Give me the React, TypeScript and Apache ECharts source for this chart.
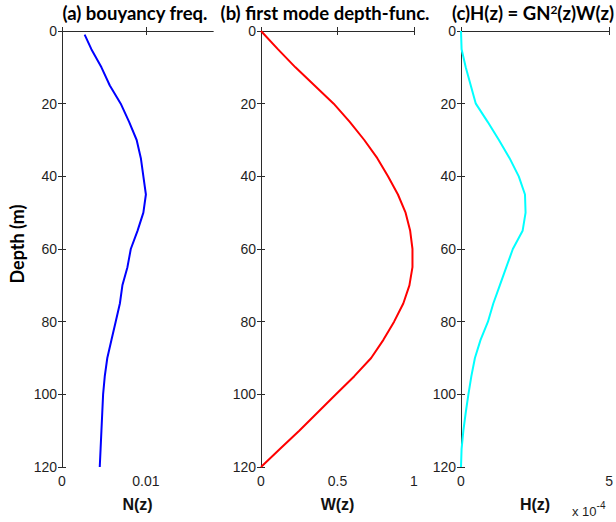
import React, { useEffect, useRef } from "react";
import * as echarts from "echarts";

// Depth grids (m)
const nDepths = [1, 5, 10, 15, 20, 25, 30, 35, 40, 45, 50, 55, 60, 65, 70, 75, 80, 85, 90, 95, 100, 105, 110, 115, 120];
const depths = [0, 5, 10, 15, 20, 25, 30, 35, 40, 45, 50, 55, 60, 65, 70, 75, 80, 85, 90, 95, 100, 105, 110, 115, 120];

// (a) buoyancy frequency N(z)
const buoyancyN = [0.0027, 0.0035, 0.0047, 0.0057, 0.007, 0.008, 0.0089, 0.0094, 0.0097, 0.01, 0.0097, 0.009, 0.0082, 0.0078, 0.0072, 0.0069, 0.0064, 0.0059, 0.0054, 0.0051, 0.0049, 0.0048, 0.0047, 0.0046, 0.0045];
// (b) first mode depth function W(z)
const modeW = [0, 0.11, 0.225, 0.35, 0.475, 0.58, 0.675, 0.76, 0.83, 0.895, 0.945, 0.975, 0.99, 0.99, 0.97, 0.93, 0.87, 0.8, 0.72, 0.61, 0.49, 0.37, 0.25, 0.125, 0];
// (c) H(z) in units of 1e-4
const hValues = [0, 0.02, 0.16, 0.33, 0.5, 0.9, 1.28, 1.64, 1.95, 2.16, 2.18, 2.08, 1.75, 1.53, 1.31, 1.09, 0.91, 0.66, 0.47, 0.35, 0.25, 0.16, 0.08, 0.02, 0];

const depthTicks = [0, 20, 40, 60, 80, 100, 120];
const titles = ["(a) bouyancy freq.", "(b) first mode depth-func.", "(c)H(z) = GN{sup|2}(z)W(z)"];
const xNames = ["N(z)", "W(z)", "H(z)"];

const AXIS_COLOR = "#2b2b2b";
const LABEL_COLOR = "#1f1f1f";

export default function App() {
  const ref = useRef<HTMLDivElement>(null);
  useEffect(() => {
    if (!ref.current) return;
    const chart = echarts.init(ref.current, undefined, { renderer: "svg" });

    const grids = [
      { left: 62, top: 31, width: 151, height: 436 },
      { left: 261, top: 31, width: 153, height: 436 },
      { left: 461, top: 31, width: 153, height: 436 },
    ];
    const xSpecs = [
      { min: 0, max: 0.018, interval: 0.01, custom: [0, 0.01] },
      { min: 0, max: 1, interval: 0.5, custom: [0, 0.5, 1] },
      { min: 0, max: 5, interval: 5, custom: [0, 5] },
    ];

    const xAxis: any[] = [];
    const yAxis: any[] = [];
    grids.forEach((_, i) => {
      const s = xSpecs[i];
      const common = {
        type: "value",
        gridIndex: i,
        min: s.min,
        max: s.max,
        interval: s.interval,
        splitLine: { show: false },
        axisLine: { show: true, lineStyle: { color: AXIS_COLOR, width: 1 } },
        axisTick: { show: true, inside: true, length: 4, lineStyle: { color: AXIS_COLOR }, customValues: s.custom },
      };
      xAxis.push({
        ...common,
        position: "bottom",
        axisLabel: {
          show: true,
          margin: 7,
          fontSize: 14,
          fontFamily: "Liberation Sans",
          color: LABEL_COLOR,
          customValues: s.custom,
          formatter: (v: number) => (s.custom.some((c) => Math.abs(c - v) < 1e-9) ? String(v) : ""),
        },
        name: xNames[i],
        nameLocation: "middle",
        nameGap: 29,
        nameTextStyle: { fontSize: 16, fontWeight: "bold", fontFamily: "Liberation Sans", color: "#111" },
      });
      xAxis.push({ ...common, position: "top", axisLabel: { show: false } });

      const ycommon = {
        type: "value",
        gridIndex: i,
        min: 0,
        max: 120,
        interval: 20,
        inverse: true,
        splitLine: { show: false },
        axisLine: { show: true, lineStyle: { color: AXIS_COLOR, width: 1 } },
        axisTick: { show: true, inside: true, length: 4, lineStyle: { color: AXIS_COLOR }, customValues: depthTicks },
      };
      yAxis.push({
        ...ycommon,
        position: "left",
        axisLabel: { show: true, margin: 5, fontSize: 14, fontFamily: "Liberation Sans", color: LABEL_COLOR, customValues: depthTicks },
      });
      yAxis.push({ ...ycommon, position: "right", axisLabel: { show: false } });
    });

    const mk = (xs: number[], ds: number[]) => xs.map((v, k) => [v, ds[k]]);
    const seriesDefs = [
      { data: mk(buoyancyN, nDepths), color: "#0000ff" },
      { data: mk(modeW, depths), color: "#ff0000" },
      { data: mk(hValues, depths), color: "#00ffff" },
    ];

    const titleCenters = [135, 325, 533];

    chart.setOption({
      animation: false,
      backgroundColor: "#ffffff",
      grid: grids,
      xAxis,
      yAxis,
      title: titles.map((t, i) => ({
        text: t,
        left: titleCenters[i],
        top: 3,
        padding: 0,
        textAlign: "center",
        textStyle: {
          fontSize: 18.5,
          fontWeight: "bold",
          fontFamily: "Lato",
          color: "#000",
          lineHeight: 20,
          rich: {
            sup: { fontSize: 12, fontWeight: "bold", fontFamily: "Lato", color: "#000", verticalAlign: "top", lineHeight: 12 },
          },
        },
      })),
      series: seriesDefs.map((s, i) => ({
        type: "line",
        xAxisIndex: i * 2,
        yAxisIndex: i * 2,
        data: s.data,
        showSymbol: false,
        symbol: "none",
        lineStyle: { color: s.color, width: 2 },
        itemStyle: { color: s.color },
      })),
      graphic: [
        {
          type: "text",
          x: 17,
          y: 244,
          rotation: Math.PI / 2,
          style: {
            text: "Depth (m)",
            fontSize: 18,
            fontWeight: "bold",
            fontFamily: "Lato",
            fill: "#000",
            align: "center",
            verticalAlign: "middle",
          },
        },
        {
          type: "text",
          x: 572,
          y: 500,
          style: {
            text: "x 10{sup|-4}",
            fontSize: 13,
            fontFamily: "Liberation Sans",
            fill: LABEL_COLOR,
            lineHeight: 22,
            rich: {
              sup: { fontSize: 10, fontFamily: "Liberation Sans", fill: LABEL_COLOR, verticalAlign: "top", lineHeight: 12 },
            },
          },
        },
      ],
    });
    return () => chart.dispose();
  }, []);
  return <div ref={ref} style={{ width: 616, height: 522, position: "absolute", left: 0, top: 0 }} />;
}
